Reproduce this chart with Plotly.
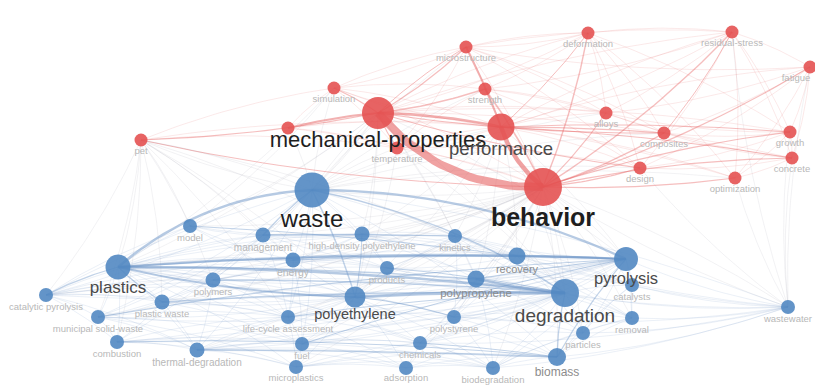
import numpy as np
import plotly.graph_objects as go

# ---- keyword nodes (map coordinates in layout units) ----
node_keys = [
    "mech", "perf", "beh", "sim", "temp", "str", "micro", "def", "res", "fat",
    "alloy", "comp", "design", "opt", "growth", "concrete", "pet", "damage",
    "waste", "plastics", "pyro", "degr", "pe", "pp", "recov", "mgmt", "hdpe",
    "kin", "model", "energy", "prod", "polym", "pw", "cat", "msw", "comb",
    "thd", "lca", "fuel", "micpl", "ps", "chem", "ads", "biod", "biomass",
    "part", "remov", "catal", "ww",
]
node_labels = [
    "mechanical-properties", "performance", "behavior", "simulation", "temperature",
    "strength", "microstructure", "deformation", "residual-stress", "fatigue",
    "alloys", "composites", "design", "optimization", "growth", "concrete", "pet", "",
    "waste", "plastics", "pyrolysis", "degradation", "polyethylene", "polypropylene",
    "recovery", "management", "high-density polyethylene", "kinetics", "model",
    "energy", "products", "polymers", "plastic waste", "catalytic pyrolysis",
    "municipal solid-waste", "combustion", "thermal-degradation",
    "life-cycle assessment", "fuel", "microplastics", "polystyrene", "chemicals",
    "adsorption", "biodegradation", "biomass", "particles", "removal", "catalysts",
    "wastewater",
]
node_x = [
    378, 501, 543, 334, 397, 485, 466, 588, 732, 810,
    606, 664, 640, 735, 790, 792, 141, 288,
    312, 118, 626, 565, 355, 476, 517, 263, 362,
    455, 190, 293, 387, 213, 162, 46, 98, 117,
    197, 288, 302, 296, 454, 420, 406, 493, 557,
    583, 632, 632, 788,
]
node_y = [
    113, 127, 187, 88, 148, 89, 47, 33, 32, 67,
    113, 133, 168, 178, 132, 158, 140, 128,
    190, 267, 259, 293, 297, 279, 256, 235, 234,
    236, 226, 260, 268, 280, 302, 295, 317, 342,
    350, 317, 344, 367, 317, 343, 368, 368, 357,
    333, 318, 285, 307,
]
node_size = [
    32, 27, 38, 13, 13, 13, 13, 13, 13, 13,
    13, 13, 13, 13, 13, 13, 13, 13,
    35, 25, 24, 28, 21, 17, 17, 15, 15,
    14, 14, 15, 14, 15, 15, 14, 14, 14,
    15, 14, 14, 14, 14, 14, 14, 14, 18,
    14, 14, 14, 14,
]
node_cluster = ["red"] * 18 + ["blue"] * 31
label_size = [
    22, 18.5, 25, 9.5, 9.5, 9.5, 9.5, 9.5, 9.5, 9.5,
    9.5, 9.5, 9.5, 9.5, 9.5, 9.5, 9.5, 9.5,
    24, 17, 16.5, 19, 14.5, 11.5, 11, 10, 9.5,
    9.5, 9.5, 10.5, 9.5, 9.5, 9.5, 9.5, 9.5, 9.5,
    10, 9.5, 9.5, 9.5, 9.5, 9.5, 9.5, 9.5, 12,
    9.5, 9.5, 9.5, 9.5,
]

# ---- strong links: (from, to, line width, curvature) ----
strong_links = [
    ("mech", "beh", 8, -0.24), ("perf", "beh", 4.5, -0.15), ("mech", "perf", 2.5, 0.05),
    ("micro", "perf", 2, 0.03), ("str", "beh", 1.6, 0.05), ("def", "beh", 1.4, 0.05),
    ("res", "beh", 1.4, 0.06), ("fat", "beh", 1.2, 0.06), ("comp", "beh", 1.4, 0.06),
    ("growth", "beh", 1.2, -0.05), ("concrete", "beh", 1.2, -0.05), ("design", "beh", 1.2, 0.05),
    ("opt", "beh", 1.2, 0.04), ("alloy", "beh", 1.1, 0.05), ("sim", "mech", 1.2, 0.05),
    ("temp", "mech", 1.2, 0.05), ("damage", "mech", 2, 0.04), ("pet", "mech", 1.1, -0.04),
    ("pet", "beh", 1.0, -0.05), ("micro", "mech", 1.2, 0.06), ("str", "mech", 1.5, 0.05),
    ("mech", "comp", 1.1, -0.04), ("perf", "growth", 1.0, 0.03), ("perf", "concrete", 1.0, 0.03),
    ("perf", "comp", 1.2, 0.02), ("def", "perf", 1.0, 0.05), ("mech", "micro", 1.0, 0.05),
    ("res", "comp", 1.0, 0.05), ("mech", "design", 1.0, -0.04),
    ("plastics", "waste", 2.5, 0.17), ("waste", "pyro", 2.3, 0.11), ("plastics", "degr", 2.5, 0.03),
    ("plastics", "pyro", 2.2, 0.03), ("plastics", "pe", 2.0, -0.05), ("pe", "degr", 3.0, 0.02),
    ("pp", "degr", 2.5, -0.03), ("recov", "pyro", 2.2, 0.01), ("plastics", "recov", 1.5, 0.02),
    ("waste", "degr", 1.5, 0.1), ("waste", "pe", 1.5, 0.05), ("thd", "biomass", 1.6, 0.01),
    ("pw", "degr", 1.6, 0.02), ("polym", "degr", 1.5, 0.02), ("msw", "pyro", 1.1, 0.03),
    ("cat", "plastics", 1.3, 0.05), ("energy", "pyro", 1.2, 0.02), ("mgmt", "waste", 1.3, 0.05),
    ("mgmt", "kin", 1.3, 0.01), ("model", "recov", 1.0, 0.02), ("biomass", "pyro", 1.2, 0.05),
    ("biomass", "degr", 1.3, 0.05), ("chem", "biomass", 1.0, 0.02), ("pe", "ps", 1.0, 0.05),
    ("lca", "degr", 1.0, 0.03), ("fuel", "pyro", 1.0, 0.03), ("pw", "plastics", 1.2, 0.05),
    ("hdpe", "pe", 1.0, 0.05), ("pp", "pyro", 1.2, 0.02), ("plastics", "pp", 1.5, 0.02),
    ("comb", "biomass", 1.0, 0.03), ("prod", "degr", 1.0, 0.03),
]

# ---- weak links: keyword -> co-occurring keywords ----
weak_links = {
    "pet": ["plastics", "model", "mgmt", "waste", "cat", "pw", "msw", "energy", "kin",
            "temp", "sim", "hdpe", "polym", "perf", "comb", "lca", "pe"],
    "beh": ["waste", "plastics", "pe", "pp", "recov", "degr", "pyro", "kin", "hdpe", "mgmt",
            "energy", "prod", "model", "ww", "ps", "biomass", "part", "remov", "catal",
            "chem", "lca", "fuel", "thd", "msw", "polym", "cat", "micpl", "biod", "ads", "pw"],
    "waste": ["sim", "temp", "mech", "perf", "str", "design", "alloy", "opt", "kin", "hdpe",
              "energy", "prod", "polym", "lca", "fuel", "thd", "msw", "cat", "comb", "remov",
              "ww", "biomass", "pet", "micro", "comp"],
    "mech": ["pe", "plastics", "degr", "waste", "pyro", "hdpe", "kin", "alloy", "opt",
             "res", "def", "model", "growth", "concrete", "pp", "mgmt"],
    "perf": ["design", "opt", "res", "alloy", "pe", "degr", "pyro", "kin", "recov",
             "fat", "sim", "temp", "hdpe", "pp"],
    "ww": ["pyro", "degr", "remov", "catal", "part", "biomass", "recov", "pp", "kin", "opt",
           "concrete", "growth", "design", "biod", "chem", "ps", "beh", "res", "fat"],
    "cat": ["msw", "comb", "pw", "polym", "pe", "thd", "model", "degr", "pyro", "lca",
            "mgmt", "energy", "waste"],
    "micro": ["def", "res", "sim", "temp", "alloy", "comp", "design", "str", "beh"],
    "def": ["res", "alloy", "comp", "design", "micro", "opt", "growth", "str", "mech"],
    "res": ["fat", "growth", "concrete", "alloy", "design", "opt", "perf", "str"],
    "fat": ["growth", "concrete", "opt", "comp", "design", "alloy", "micro"],
    "growth": ["concrete", "opt", "comp", "alloy", "design"],
    "concrete": ["opt", "design", "comp", "alloy"],
    "sim": ["temp", "str", "micro", "perf", "beh", "plastics", "model"],
    "temp": ["str", "perf", "beh", "design", "pe", "degr"],
    "str": ["alloy", "comp", "design", "perf"],
    "damage": ["beh", "perf", "waste", "sim", "temp"],
    "plastics": ["mgmt", "energy", "polym", "pw", "msw", "comb", "thd", "lca", "fuel",
                 "micpl", "chem", "ps", "biomass", "kin", "hdpe", "prod", "model", "biod"],
    "pyro": ["kin", "catal", "remov", "part", "thd", "cat", "pw", "polym", "prod", "hdpe",
             "chem", "biod", "ps", "lca", "comb", "degr", "pe"],
    "degr": ["kin", "hdpe", "ps", "biod", "part", "remov", "catal", "micpl", "chem", "ads",
             "recov", "thd", "msw", "comb", "energy", "mgmt", "fuel"],
    "pe": ["pp", "ps", "polym", "pw", "lca", "fuel", "micpl", "chem", "biod", "ads", "energy",
           "prod", "thd", "comb", "msw", "kin", "model"],
    "hdpe": ["kin", "mgmt", "energy", "prod", "pp", "recov", "model", "polym"],
    "mgmt": ["energy", "model", "recov", "lca", "pw", "msw", "prod", "polym"],
    "kin": ["recov", "pp", "prod", "energy", "catal", "ps"],
    "energy": ["prod", "recov", "polym", "lca", "fuel", "model"],
    "recov": ["pp", "prod", "catal", "remov", "part", "ps"],
    "pp": ["ps", "prod", "chem", "biod", "part", "remov", "catal"],
    "polym": ["pw", "lca", "thd", "msw", "prod"],
    "pw": ["msw", "thd", "lca", "comb", "fuel"],
    "msw": ["comb", "thd", "lca", "fuel", "micpl"],
    "comb": ["thd", "fuel", "micpl", "lca"],
    "thd": ["lca", "fuel", "micpl", "chem", "ads", "biod"],
    "lca": ["fuel", "micpl", "chem", "ps", "ads"],
    "fuel": ["micpl", "chem", "ads", "biod", "ps"],
    "micpl": ["ads", "biod", "chem", "biomass"],
    "ps": ["chem", "biod", "part", "remov", "biomass"],
    "chem": ["ads", "biod", "part"],
    "ads": ["biod", "biomass"],
    "biod": ["biomass", "part", "remov"],
    "biomass": ["part", "remov", "catal"],
    "part": ["remov", "catal"],
    "remov": ["catal"],
}

# label nudges for keywords sitting on the map border
label_dx = {"fat": -14}
label_dy = {"micpl": -1, "ads": -2}

idx = {k: i for i, k in enumerate(node_keys)}
RED = "rgb(228,82,82)"
BLUE = "rgb(82,136,194)"


def curve(a, b, bend, n=24):
    p0 = np.array([node_x[idx[a]], node_y[idx[a]]], float)
    p2 = np.array([node_x[idx[b]], node_y[idx[b]]], float)
    d = p2 - p0
    ctrl = (p0 + p2) / 2 + bend * np.array([d[1], -d[0]])
    t = np.linspace(0, 1, n)[:, None]
    pts = (1 - t) ** 2 * p0 + 2 * (1 - t) * t * ctrl + t ** 2 * p2
    return pts[:, 0], pts[:, 1]


def link_color(a, b, alpha):
    ca, cb = node_cluster[idx[a]], node_cluster[idx[b]]
    if ca == cb == "red":
        return f"rgba(230,100,100,{alpha})"
    if ca == cb == "blue":
        return f"rgba(110,150,200,{alpha})"
    return f"rgba(160,166,178,{alpha})"


groups = {}


def add_link(a, b, width, bend, alpha):
    key = (link_color(a, b, alpha), width)
    xs, ys = curve(a, b, bend)
    gx, gy = groups.setdefault(key, ([], []))
    gx.extend(list(xs) + [None])
    gy.extend(list(ys) + [None])


for src, targets in weak_links.items():
    for tgt in targets:
        add_link(src, tgt, 0.8, 0.06, 0.18)

for a, b, w, bend in strong_links:
    alpha = 0.6 if w >= 4 else 0.5 if w >= 2 else 0.42
    add_link(a, b, w, bend, alpha)

fig = go.Figure()
for (color, width), (gx, gy) in sorted(groups.items(), key=lambda kv: kv[0][1]):
    fig.add_trace(go.Scatter(x=gx, y=gy, mode="lines",
                             line=dict(color=color, width=width),
                             hoverinfo="skip"))

# nodes
fig.add_trace(go.Scatter(
    x=node_x, y=node_y, mode="markers",
    marker=dict(size=node_size,
                color=[RED if c == "red" else BLUE for c in node_cluster],
                opacity=0.9, line=dict(width=0)),
    hoverinfo="skip",
))

# labels under each node
lab_x = [x + label_dx.get(k, 0) for k, x in zip(node_keys, node_x)]
lab_y = [y + s / 2 + f * 0.55 + label_dy.get(k, 0)
         for k, y, s, f in zip(node_keys, node_y, node_size, label_size)]
lab_color = []
lab_text = []
for lbl, f in zip(node_labels, label_size):
    if f >= 20:
        lab_color.append("#1e1e1e")
    elif f >= 14:
        lab_color.append("#4a4a4a")
    elif f >= 11:
        lab_color.append("#8c8c8c")
    else:
        lab_color.append("#b8b8b8")
    lab_text.append(f"<b>{lbl}</b>" if lbl == "behavior" else lbl)

fig.add_trace(go.Scatter(
    x=lab_x, y=lab_y, mode="text", text=lab_text,
    textposition="middle center",
    textfont=dict(family="Liberation Sans, Arial, sans-serif",
                  size=label_size, color=lab_color),
    hoverinfo="skip",
))

fig.update_layout(
    width=815, height=385,
    margin=dict(l=0, r=0, t=0, b=0),
    paper_bgcolor="white", plot_bgcolor="white",
    showlegend=False,
    xaxis=dict(range=[0, 815], visible=False, fixedrange=True),
    yaxis=dict(range=[385, 0], visible=False, fixedrange=True),
)

fig.write_html("out.html")
